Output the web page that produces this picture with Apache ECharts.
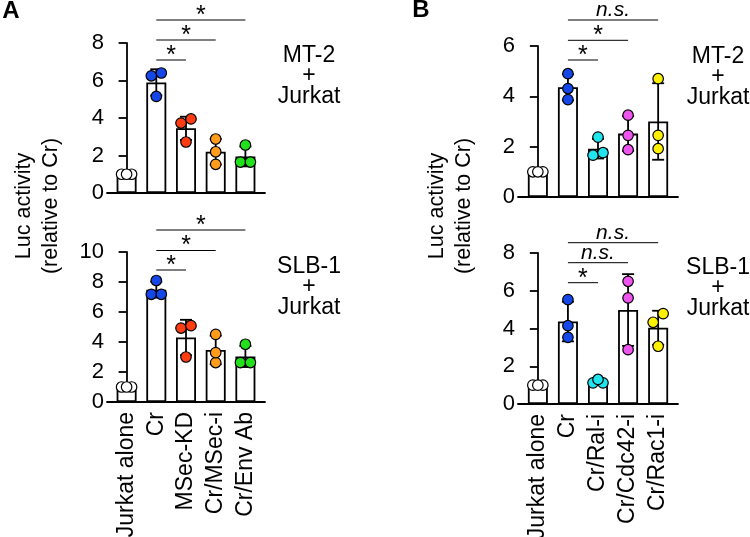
<!DOCTYPE html>
<html>
<head>
<meta charset="utf-8">
<script src="https://cdn.jsdelivr.net/npm/echarts@6/dist/echarts.min.js"></script>
<style>
  html, body { margin: 0; background: #fff; }
  #chart { width: 750px; height: 537px; }
</style>
</head>
<body>
<div id="chart"></div>
<script>
// categories
const catsA = ['Jurkat alone', 'Cr', 'MSec-KD', 'Cr/MSec-i', 'Cr/Env Ab'];
const catsB = ['Jurkat alone', 'Cr', 'Cr/Ral-i', 'Cr/Cdc42-i', 'Cr/Rac1-i'];

// A, MT-2 + Jurkat
const meanA1 = [1.0, 5.9, 3.45, 2.2, 1.95];
const sdA1 = [0.05, 0.7, 0.62, 0.68, 0.53];
const dotsA1 = [[1, 1, 1], [5.15, 6.25, 6.4], [2.72, 3.73, 3.95], [1.53, 2.2, 2.88], [1.65, 1.65, 2.56]];
const sigA1 = ['*', '*', '*'];

// A, SLB-1 + Jurkat
const meanA2 = [1.0, 7.49, 4.3, 3.47, 3.03];
const sdA2 = [0.05, 0.53, 1.18, 0.95, 0.7];
const dotsA2 = [[1, 1, 1], [7.18, 7.18, 8.1], [3.0, 4.93, 5.09], [2.63, 3.29, 4.51], [2.63, 2.63, 3.85]];
const sigA2 = ['*', '*', '*'];

// B, MT-2 + Jurkat
const meanB1 = [1.0, 4.36, 1.92, 2.52, 3.0];
const sdB1 = [0.05, 0.52, 0.39, 0.69, 1.52];
const dotsB1 = [[1, 1, 1], [3.87, 4.31, 4.9], [1.66, 1.76, 2.38], [1.88, 2.45, 3.25], [1.92, 2.45, 4.7]];
const sigB1 = ['*', '*', 'n.s.'];

// B, SLB-1 + Jurkat
const meanB2 = [1.0, 4.37, 1.16, 4.98, 4.04];
const sdB2 = [0.05, 1.05, 0.1, 1.9, 0.9];
const dotsB2 = [[1, 1, 1], [3.53, 4.15, 5.53], [1.12, 1.12, 1.3], [2.88, 5.62, 6.5], [3.06, 4.33, 4.79]];
const sigB2 = ['*', 'n.s.', 'n.s.'];

const yTicks = { A1: 8, A2: 10, B1: 6, B2: 8 };

const colorsA = ['#ffffff', '#1446e8', '#ff3c12', '#ff9c1c', '#22e01c'];
const colorsB = ['#ffffff', '#1446e8', '#20e4ee', '#ee55ee', '#fff000'];

const FONT = '"Liberation Sans", Arial, Helvetica, sans-serif';
const LW = 1.8;
const PAD = 0.66;

const panels = [
  { cats: catsA, mean: meanA1, sd: sdA1, dots: dotsA1, sig: sigA1, max: yTicks.A1, colors: colorsA,
    rect: { left: 107, top: 43, width: 158, height: 150 }, sigY: [60, 40, 20], labels: false },
  { cats: catsA, mean: meanA2, sd: sdA2, dots: dotsA2, sig: sigA2, max: yTicks.A2, colors: colorsA,
    rect: { left: 107, top: 252, width: 158, height: 150 }, sigY: [270, 250.5, 230], labels: true },
  { cats: catsB, mean: meanB1, sd: sdB1, dots: dotsB1, sig: sigB1, max: yTicks.B1, colors: colorsB,
    rect: { left: 518, top: 46, width: 160, height: 151 }, sigY: [60, 40.3, 20], labels: false },
  { cats: catsB, mean: meanB2, sd: sdB2, dots: dotsB2, sig: sigB2, max: yTicks.B2, colors: colorsB,
    rect: { left: 518, top: 253, width: 160, height: 151 }, sigY: [282.7, 262.7, 242.7], labels: true }
];

// spread overlapping replicate dots sideways, like Prism does
function spread(vals, pxPerUnit) {
  const s = vals.slice().sort((a, b) => a - b);
  const groups = [];
  s.forEach(v => {
    const g = groups[groups.length - 1];
    if (g && (v - g[g.length - 1]) * pxPerUnit < 9.5) g.push(v);
    else groups.push([v]);
  });
  const out = [];
  groups.forEach(g => {
    const offs = g.length === 1 ? [0] : g.length === 2 ? [-5, 5] : [-5, 5, 0];
    g.forEach((v, k) => out.push([offs[k], v]));
  });
  return out;
}

const grid = [], xAxis = [], yAxis = [], series = [];

panels.forEach((p, gi) => {
  grid.push(Object.assign({ outerBoundsMode: 'none', containLabel: false }, p.rect));
  const pxPerCat = p.rect.width / (p.cats.length - 1 + 2 * PAD);
  const pxPerUnit = p.rect.height / p.max;

  xAxis.push({
    type: 'value', gridIndex: gi, min: -PAD, max: p.cats.length - 1 + PAD,
    axisLine: { show: true, onZero: false, lineStyle: { color: '#000', width: LW } },
    axisTick: { show: false },
    splitLine: { show: false },
    axisLabel: {
      show: p.labels, customValues: p.cats.map((c, i) => i), rotate: 90, margin: 10,
      formatter: v => p.cats[Math.round(v)], color: '#000', fontSize: 23, fontFamily: FONT
    }
  });
  yAxis.push({
    type: 'value', gridIndex: gi, min: 0, max: p.max, interval: 2,
    axisLine: { show: true, lineStyle: { color: '#000', width: LW } },
    axisTick: { show: true, length: 8, lineStyle: { color: '#000', width: LW } },
    splitLine: { show: false },
    axisLabel: { color: '#000', fontSize: 22, fontFamily: FONT, margin: 3 }
  });

  series.push({
    type: 'bar', xAxisIndex: gi, yAxisIndex: gi, barWidth: 20, z: 2,
    itemStyle: { color: '#fff', borderColor: '#000', borderWidth: LW },
    data: p.mean.map((m, i) => [i, m])
  });

  series.push({
    type: 'custom', xAxisIndex: gi, yAxisIndex: gi, z: 3,
    data: p.mean.map((m, i) => [i, m, p.sd[i]]),
    renderItem: (params, api) => {
      const i = api.value(0), m = api.value(1), s = api.value(2);
      const top = api.coord([i, m + s]);
      const bot = api.coord([i, m - s]);
      const ls = { stroke: '#000', lineWidth: LW };
      return {
        type: 'group', children: [
          { type: 'line', shape: { x1: top[0], y1: top[1], x2: bot[0], y2: bot[1] }, style: ls },
          { type: 'line', shape: { x1: top[0] - 6, y1: top[1], x2: top[0] + 6, y2: top[1] }, style: ls },
          { type: 'line', shape: { x1: bot[0] - 6, y1: bot[1], x2: bot[0] + 6, y2: bot[1] }, style: ls }
        ]
      };
    }
  });

  const pts = [];
  p.dots.forEach((vals, i) => {
    spread(vals, pxPerUnit).forEach(([off, v]) => {
      pts.push({ value: [i + off / pxPerCat, v], itemStyle: { color: p.colors[i] } });
    });
  });
  series.push({
    type: 'scatter', xAxisIndex: gi, yAxisIndex: gi, z: 4, symbolSize: 10.5,
    itemStyle: { borderColor: '#000', borderWidth: 1.2, opacity: 1 },
    data: pts
  });

  series.push({
    type: 'custom', xAxisIndex: gi, yAxisIndex: gi, z: 5, clip: false,
    data: p.sig.map((s, k) => [1, k + 2]),
    renderItem: (params, api) => {
      const k = params.dataIndex;
      const x1 = api.coord([api.value(0), 0])[0];
      const x2 = api.coord([api.value(1), 0])[0];
      const y = p.sigY[k];
      const lab = p.sig[k];
      const star = lab === '*';
      return {
        type: 'group', children: [
          { type: 'line', shape: { x1, y1: y, x2, y2: y }, style: { stroke: '#000', lineWidth: 1 } },
          { type: 'text', x: (x1 + x2) / 2, y: star ? y - 4 : y - 10,
            style: { text: lab, fill: '#000', textAlign: 'center', textVerticalAlign: 'middle',
              font: (star ? '25px ' : 'italic 21px ') + FONT } }
        ]
      };
    }
  });
});

const txt = (x, y, text, extra) => ({
  type: 'text', x, y,
  style: Object.assign({ text, fill: '#000', font: '23px ' + FONT, textAlign: 'center', textVerticalAlign: 'middle' }, extra)
});

const graphic = [
  txt(11, 11, 'A', { font: 'bold 24px ' + FONT }),
  txt(421, 10, 'B', { font: 'bold 24px ' + FONT }),
  txt(309, 76, 'MT-2\n+\nJurkat', { lineHeight: 20.5 }),
  txt(309, 287, 'SLB-1\n+\nJurkat', { lineHeight: 20.5 }),
  txt(718, 77, 'MT-2\n+\nJurkat', { lineHeight: 20.5 }),
  txt(718, 288, 'SLB-1\n+\nJurkat', { lineHeight: 20.5 }),
  Object.assign(txt(38, 206, 'Luc activity\n(relative to Cr)', { lineHeight: 27, font: '21.5px ' + FONT }), { rotation: Math.PI / 2 }),
  Object.assign(txt(451, 206, 'Luc activity\n(relative to Cr)', { lineHeight: 27, font: '21.5px ' + FONT }), { rotation: Math.PI / 2 })
];

const chart = echarts.init(document.getElementById('chart'));
chart.setOption({
  animation: false,
  backgroundColor: '#fff',
  grid, xAxis, yAxis, series, graphic
});
</script>
</body>
</html>
